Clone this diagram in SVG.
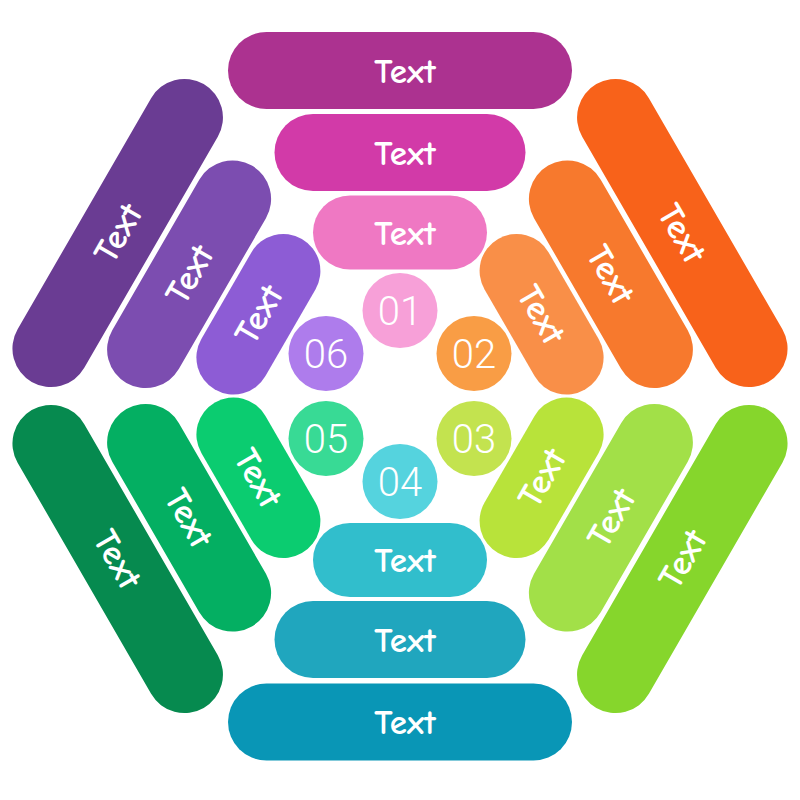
<svg xmlns="http://www.w3.org/2000/svg" width="800" height="800" viewBox="0 0 800 800">
<style>
.t{font-family:"Comic Sans MS","Comic Neue","Open Sans","Liberation Sans",sans-serif;font-size:35px;font-weight:700;fill:#fff;text-anchor:middle}
.n{font-family:Roboto,"Liberation Sans",sans-serif;font-weight:300;font-size:40px;fill:#fff;text-anchor:middle}
</style>
<rect width="800" height="800" fill="#fff"/>
<g id="top">
<g id="top-outer" transform="translate(400,70.5)"><rect x="-172" y="-38.5" width="344" height="77" rx="38.5" fill="#AC3290"/><text class="t" x="5" y="12">Text</text></g>
<g id="top-middle" transform="translate(400,152.5)"><rect x="-125.5" y="-38.5" width="251" height="77" rx="38.5" fill="#D23AA8"/><text class="t" x="5" y="12">Text</text></g>
<g id="top-inner" transform="translate(400,232.5)"><rect x="-87" y="-37" width="174" height="74" rx="37" fill="#EF78C3"/><text class="t" x="5" y="12">Text</text></g>
</g>
<g id="top-right">
<g id="tr-outer" transform="translate(682.3,233) rotate(60)"><rect x="-172" y="-38.5" width="344" height="77" rx="38.5" fill="#F8621A"/><text class="t" y="12">Text</text></g>
<g id="tr-middle" transform="translate(610.9,274.25) rotate(60)"><rect x="-125.5" y="-38.5" width="251" height="77" rx="38.5" fill="#F7792D"/><text class="t" y="12">Text</text></g>
<g id="tr-inner" transform="translate(541.6,314.25) rotate(60)"><rect x="-87" y="-37" width="174" height="74" rx="37" fill="#F98F48"/><text class="t" y="12">Text</text></g>
</g>
<g id="bottom-right">
<g id="br-outer" transform="translate(682.3,559) rotate(-60)"><rect x="-172" y="-38.5" width="344" height="77" rx="38.5" fill="#86D62C"/><text class="t" y="12">Text</text></g>
<g id="br-middle" transform="translate(610.9,517.75) rotate(-60)"><rect x="-125.5" y="-38.5" width="251" height="77" rx="38.5" fill="#A2E048"/><text class="t" y="12">Text</text></g>
<g id="br-inner" transform="translate(541.6,477.75) rotate(-60)"><rect x="-87" y="-37" width="174" height="74" rx="37" fill="#B8E33A"/><text class="t" y="12">Text</text></g>
</g>
<g id="bottom">
<g id="b-outer" transform="translate(400,722)"><rect x="-172" y="-38.5" width="344" height="77" rx="38.5" fill="#0996B6"/><text class="t" x="5" y="12">Text</text></g>
<g id="b-middle" transform="translate(400,639.5)"><rect x="-125.5" y="-38.5" width="251" height="77" rx="38.5" fill="#20A6BE"/><text class="t" x="5" y="12">Text</text></g>
<g id="b-inner" transform="translate(400,560)"><rect x="-87" y="-37" width="174" height="74" rx="37" fill="#31BECC"/><text class="t" x="5" y="12">Text</text></g>
</g>
<g id="bottom-left">
<g id="bl-outer" transform="translate(117.7,559) rotate(60)"><rect x="-172" y="-38.5" width="344" height="77" rx="38.5" fill="#068A4F"/><text class="t" y="12">Text</text></g>
<g id="bl-middle" transform="translate(189.1,517.75) rotate(60)"><rect x="-125.5" y="-38.5" width="251" height="77" rx="38.5" fill="#04AF62"/><text class="t" y="12">Text</text></g>
<g id="bl-inner" transform="translate(258.4,477.75) rotate(60)"><rect x="-87" y="-37" width="174" height="74" rx="37" fill="#0BCC70"/><text class="t" y="12">Text</text></g>
</g>
<g id="top-left">
<g id="tl-outer" transform="translate(117.7,233) rotate(-60)"><rect x="-172" y="-38.5" width="344" height="77" rx="38.5" fill="#6A3C93"/><text class="t" y="12">Text</text></g>
<g id="tl-middle" transform="translate(189.1,274.25) rotate(-60)"><rect x="-125.5" y="-38.5" width="251" height="77" rx="38.5" fill="#7C4DB0"/><text class="t" y="12">Text</text></g>
<g id="tl-inner" transform="translate(258.4,314.25) rotate(-60)"><rect x="-87" y="-37" width="174" height="74" rx="37" fill="#8D5CD5"/><text class="t" y="12">Text</text></g>
</g>
<g id="c01"><circle cx="400" cy="310.5" r="37.5" fill="#F7A0D8"/><text class="n" x="400" y="325">01</text></g>
<g id="c02"><circle cx="474" cy="353.5" r="37.5" fill="#F99D45"/><text class="n" x="474" y="368">02</text></g>
<g id="c03"><circle cx="474" cy="438.5" r="37.5" fill="#C3E34F"/><text class="n" x="474" y="453">03</text></g>
<g id="c04"><circle cx="400" cy="481.5" r="37.5" fill="#55D3DE"/><text class="n" x="400" y="496">04</text></g>
<g id="c05"><circle cx="326" cy="438.5" r="37.5" fill="#38DA95"/><text class="n" x="326" y="453">05</text></g>
<g id="c06"><circle cx="326" cy="353.5" r="37.5" fill="#AE7CEC"/><text class="n" x="326" y="368">06</text></g>
<g id="connectors"/>
</svg>
